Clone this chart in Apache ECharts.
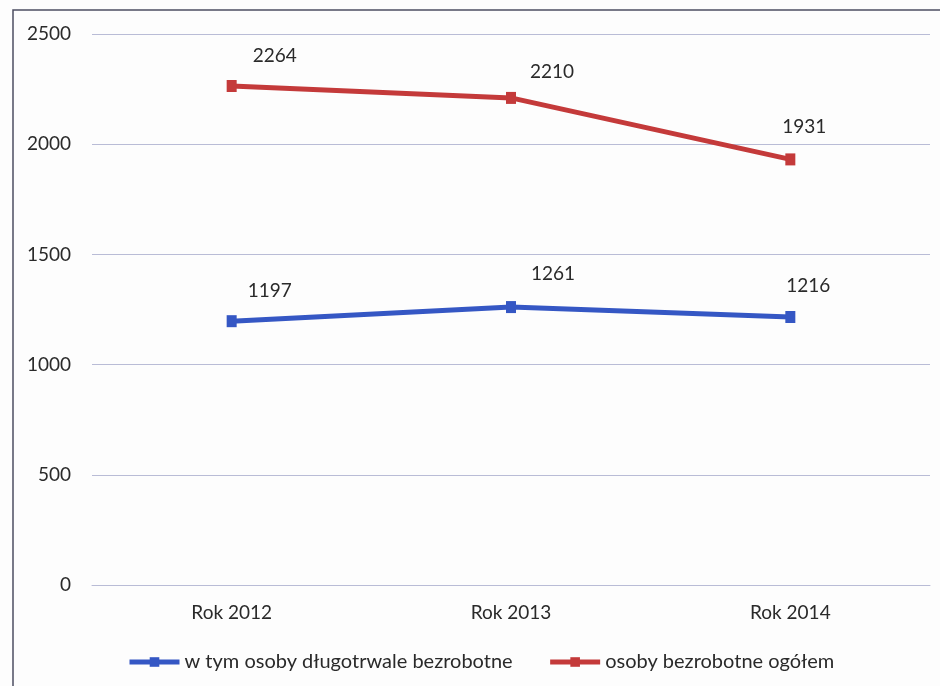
<!DOCTYPE html>
<html>
<head>
<meta charset="utf-8">
<script src="https://cdn.jsdelivr.net/npm/echarts@6/dist/echarts.min.js"></script>
<style>
html,body{margin:0;padding:0;background:#fdfdfd;}
#main{width:940px;height:686px;}
</style>
</head>
<body>
<div id="main"></div>
<script>
const categories = ['Rok 2012', 'Rok 2013', 'Rok 2014'];
const seriesNames = ['w tym osoby długotrwale bezrobotne', 'osoby bezrobotne ogółem'];
const longTerm = [1197, 1261, 1216];
const total = [2264, 2210, 1931];
const yTicks = { min: 0, max: 2500, interval: 500 };

// label placement (style only)
const longTermLabelOffsets = [[38, -10], [42, -13], [18, -11]];
const totalLabelOffsets = [[43, -10], [41, -6], [14, -12]];

const FONT = 'Lato';
const TEXT = '#2a2a2a';
const chart = echarts.init(document.getElementById('main'));

function labelled(values, offsets) {
  return values.map((v, i) => ({ value: v, label: { offset: offsets[i] } }));
}

chart.setOption({
  backgroundColor: '#fdfdfd',
  animation: false,
  textStyle: { fontFamily: FONT },
  graphic: [{
    type: 'rect', shape: { x: 13, y: 10, width: 940, height: 700 },
    style: { fill: 'none', stroke: '#4c4d62', lineWidth: 1.5 }, silent: true, z: -1
  }],
  grid: { left: 92, right: 10, top: 34, bottom: 101 },
  legend: {
    left: 122, top: 647,
    itemWidth: 50, itemHeight: 12, itemGap: 35,
    lineStyle: { width: 5 },
    textStyle: { fontFamily: FONT, fontSize: 20, color: TEXT },
    data: seriesNames
  },
  xAxis: {
    type: 'category', data: categories, boundaryGap: true,
    axisLine: { lineStyle: { color: '#b9bcd6', width: 1 } },
    axisTick: { show: false },
    axisLabel: { fontFamily: FONT, fontSize: 19, color: TEXT, margin: 18 }
  },
  yAxis: {
    type: 'value', min: yTicks.min, max: yTicks.max, interval: yTicks.interval,
    axisLine: { show: false }, axisTick: { show: false },
    splitLine: { lineStyle: { color: '#b9bcd6', width: 1 } },
    axisLabel: { fontFamily: FONT, fontSize: 19, color: TEXT, margin: 21, formatter: v => String(v) }
  },
  series: [
    {
      name: seriesNames[0], type: 'line', data: labelled(longTerm, longTermLabelOffsets),
      color: '#3557c4',
      lineStyle: { width: 5, color: '#3557c4' },
      symbol: 'rect', symbolSize: [10, 12], showAllSymbol: true,
      itemStyle: { color: '#3557c4' },
      label: { show: true, position: 'top', fontFamily: FONT, fontSize: 19, color: TEXT }
    },
    {
      name: seriesNames[1], type: 'line', data: labelled(total, totalLabelOffsets),
      color: '#c43a3a',
      lineStyle: { width: 5, color: '#c43a3a' },
      symbol: 'rect', symbolSize: [10, 12], showAllSymbol: true,
      itemStyle: { color: '#c43a3a' },
      label: { show: true, position: 'top', fontFamily: FONT, fontSize: 19, color: TEXT }
    }
  ]
});
</script>
</body>
</html>
